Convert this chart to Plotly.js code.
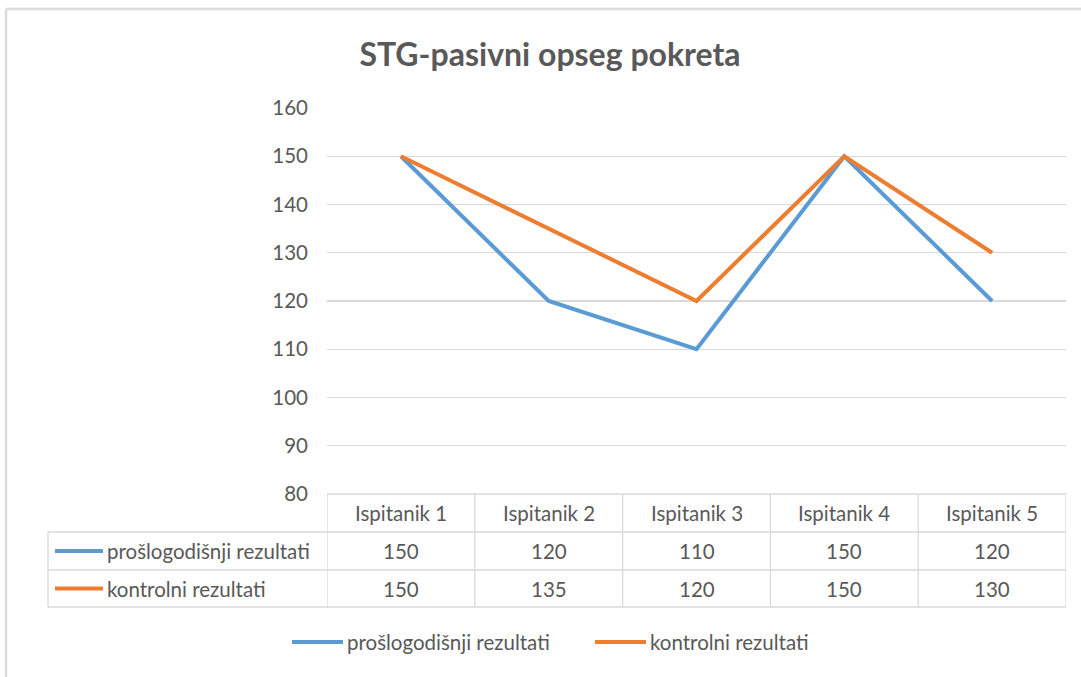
<!DOCTYPE html>
<html>
<head>
<meta charset="utf-8">
<script src="https://cdn.plot.ly/plotly-3.0.1.min.js"></script>
<style>html,body{margin:0;padding:0;background:#fff;}#chart{width:1081px;height:677px;}</style>
</head>
<body>
<div id="chart"></div>
<script>
const categories = ["Ispitanik 1", "Ispitanik 2", "Ispitanik 3", "Ispitanik 4", "Ispitanik 5"];
const seriesNames = ["prošlogodišnji rezultati", "kontrolni rezultati"];
const prosloValues = [150, 120, 110, 150, 120];
const kontrolValues = [150, 135, 120, 150, 130];
const yTicks = [80, 90, 100, 110, 120, 130, 140, 150, 160];
const colors = ["#5b9bd5", "#ed7d31"];

const W = 1081, H = 677;
const L = 327, R = 15, T = 108, B = 183;
const pw = W - L - R, ph = H - T - B;
const px2x = p => (p - L) / pw;          // pixel x -> paper x
const py2y = p => (H - B - p) / ph;      // pixel y -> paper y

const gridC = "#d9d9d9", textC = "#595959", font = "Lato, 'Open Sans', sans-serif";
const FS = 20.5;
const seriesVals = [prosloValues, kontrolValues];

const traces = seriesVals.map((v, i) => ({
  type: "scatter", mode: "lines", x: categories.map((c, k) => k), y: v,
  name: seriesNames[i], line: {color: colors[i], width: 4}, showlegend: false,
  hoverinfo: "x+y"
}));

const shapes = [], annotations = [];
const rowTops = [494, 532, 570, 607];
const yH0 = py2y(rowTops[0]), yH1 = py2y(rowTops[1]), yR1 = py2y(rowTops[2]), yR2 = py2y(rowTops[3]);
const xLeft = px2x(48);
const line = (xref, x0, x1, y0, y1) => shapes.push({type: "line", xref, yref: "paper", x0, x1, y0, y1, line: {color: gridC, width: 1.3}});

// table horizontal lines
line("paper", 0, 1, yH0, yH0);
[yH1, yR1, yR2].forEach(y => line("paper", xLeft, 1, y, y));
// verticals
line("paper", xLeft, xLeft, yH1, yR2);
for (let k = 0; k <= categories.length; k++) line("x", k - 0.5, k - 0.5, yH0, yR2);

// header + values
categories.forEach((c, k) => {
  annotations.push({xref: "x", yref: "paper", x: k, y: (yH0 + yH1) / 2, text: c, showarrow: false, font: {size: FS, color: textC, family: font}, xanchor: "center", yanchor: "middle"});
  seriesVals.forEach((v, i) => {
    const yc = i === 0 ? (yH1 + yR1) / 2 : (yR1 + yR2) / 2;
    annotations.push({xref: "x", yref: "paper", x: k, y: yc, text: String(v[k]), showarrow: false, font: {size: FS, color: textC, family: font}, xanchor: "center", yanchor: "middle"});
  });
});
// row labels with keys
seriesNames.forEach((n, i) => {
  const yc = i === 0 ? (yH1 + yR1) / 2 : (yR1 + yR2) / 2;
  shapes.push({type: "line", xref: "paper", yref: "paper", x0: px2x(55), x1: px2x(103), y0: yc, y1: yc, line: {color: colors[i], width: 4}});
  annotations.push({xref: "paper", yref: "paper", x: px2x(105), y: yc, text: n, showarrow: false, font: {size: FS, color: textC, family: font}, xanchor: "left", yanchor: "middle"});
});
// bottom legend
const legY = py2y(642);
const legStarts = [292, 595];
seriesNames.forEach((n, i) => {
  shapes.push({type: "line", xref: "paper", yref: "paper", x0: px2x(legStarts[i]), x1: px2x(legStarts[i] + 51), y0: legY, y1: legY, line: {color: colors[i], width: 4}});
  annotations.push({xref: "paper", yref: "paper", x: px2x(legStarts[i] + 53), y: legY, text: n, showarrow: false, font: {size: FS, color: textC, family: font}, xanchor: "left", yanchor: "middle"});
});
// outer frame (top + left)
shapes.push({type: "line", xref: "paper", yref: "paper", x0: px2x(6), x1: px2x(1081), y0: py2y(9), y1: py2y(9), line: {color: "#dcdcdc", width: 2.5}});
shapes.push({type: "line", xref: "paper", yref: "paper", x0: px2x(6), x1: px2x(6), y0: py2y(9), y1: py2y(677), line: {color: "#dcdcdc", width: 2.5}});

const layout = {
  width: W, height: H, margin: {l: L, r: R, t: T, b: B},
  paper_bgcolor: "#fff", plot_bgcolor: "#fff",
  title: {text: "<b>STG-pasivni opseg pokreta</b>", xref: "container", yref: "container", x: 550 / W, y: 1 - 55 / H, xanchor: "center", yanchor: "middle", font: {size: 32, color: textC, family: font}},
  xaxis: {range: [-0.5, categories.length - 0.5], showticklabels: false, showgrid: false, zeroline: false, showline: false, fixedrange: true},
  yaxis: {range: [80, 160], tickvals: yTicks, ticktext: yTicks.map(String), showgrid: true, gridcolor: gridC, gridwidth: 1.3, zeroline: false, showline: false, ticks: "", ticklabelstandoff: 18, tickfont: {size: FS, color: textC, family: font}, fixedrange: true},
  shapes, annotations, showlegend: false
};
Plotly.newPlot("chart", traces, layout, {displayModeBar: false, staticPlot: true});
</script>
</body>
</html>
